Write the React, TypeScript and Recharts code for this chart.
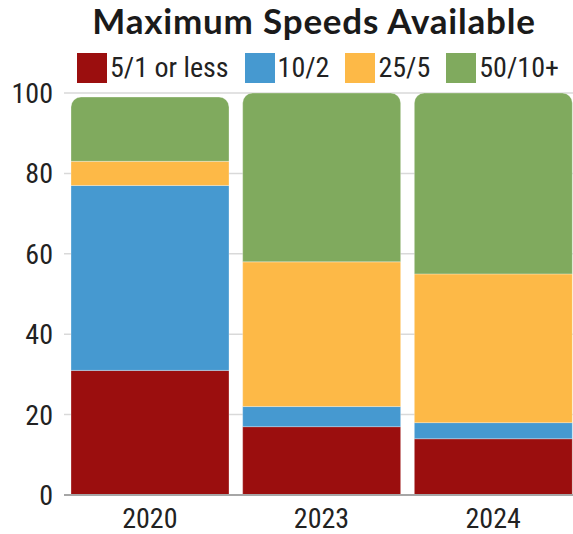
import React from "react";
import { BarChart, Bar, XAxis, YAxis, CartesianGrid } from "recharts";

const years = ["2020", "2023", "2024"];
const upTo5_1 = [31, 17, 14];
const upTo10_2 = [46, 5, 4];
const upTo25_5 = [6, 36, 37];
const over50_10 = [16, 42, 45];
const yTicks = [0, 20, 40, 60, 80, 100];

const series = [
  { key: "s1", name: "5/1 or less", color: "#9B0E0E" },
  { key: "s2", name: "10/2", color: "#4699D0" },
  { key: "s3", name: "25/5", color: "#FDB947" },
  { key: "s4", name: "50/10+", color: "#80AA5E" },
];

const data = years.map((year, i) => ({
  year,
  s1: upTo5_1[i],
  s2: upTo10_2[i],
  s3: upTo25_5[i],
  s4: over50_10[i],
}));

const narrow = "'Liberation Sans Narrow', 'Roboto Condensed', Roboto, sans-serif";

const App = () => {
  return (
    <div
      style={{
        position: "absolute",
        top: 0,
        left: 0,
        width: 573,
        height: 534,
        overflow: "hidden",
        background: "#fff",
      }}
    >
      <div
        style={{
          position: "absolute",
          top: -1,
          left: 55,
          width: 518,
          textAlign: "center",
          fontFamily: "Lato, 'Noto Sans', sans-serif",
          fontWeight: 700,
          fontSize: 35,
          letterSpacing: 0.8,
          lineHeight: "normal",
          color: "#1a1a1a",
          whiteSpace: "nowrap",
        }}
      >
        Maximum Speeds Available
      </div>
      <div
        style={{
          position: "absolute",
          top: 53,
          left: 77,
          display: "flex",
          alignItems: "center",
          fontFamily: narrow,
          fontSize: 28,
          lineHeight: "30px",
          color: "#222",
          whiteSpace: "nowrap",
        }}
      >
        {series.map((s) => (
          <div key={s.key} style={{ display: "flex", alignItems: "center", marginRight: 16 }}>
            <span
              style={{
                width: 30,
                height: 30,
                background: s.color,
                display: "inline-block",
                marginRight: 3,
              }}
            />
            <span>{s.name}</span>
          </div>
        ))}
      </div>
      <BarChart
        width={579}
        height={534}
        data={data}
        margin={{ top: 93, right: 0, bottom: 9, left: 4 }}
        barSize={158}
        style={{ position: "absolute", top: 0, left: 0 }}
      >
        <CartesianGrid vertical={false} stroke="#d9d9d9" strokeWidth={1.5} />
        <XAxis
          dataKey="year"
          height={30}
          axisLine={{ stroke: "#a6a6a6", strokeWidth: 2 }}
          tickLine={false}
          tickMargin={7}
          tick={{ fontFamily: narrow, fontSize: 28, fill: "#222" }}
        />
        <YAxis
          width={60}
          domain={[0, 100]}
          ticks={yTicks}
          axisLine={false}
          tickLine={false}
          tickMargin={5}
          tick={{ fontFamily: narrow, fontSize: 28, fill: "#222" }}
        />
        {series.map((s, i) => (
          <Bar
            key={s.key}
            dataKey={s.key}
            name={s.name}
            stackId="a"
            fill={s.color}
            stroke="#ffffff"
            strokeOpacity={0.3}
            strokeWidth={1}
            radius={i === series.length - 1 ? [10, 10, 0, 0] : 0}
            isAnimationActive={false}
          />
        ))}
      </BarChart>
    </div>
  );
};

export default App;
